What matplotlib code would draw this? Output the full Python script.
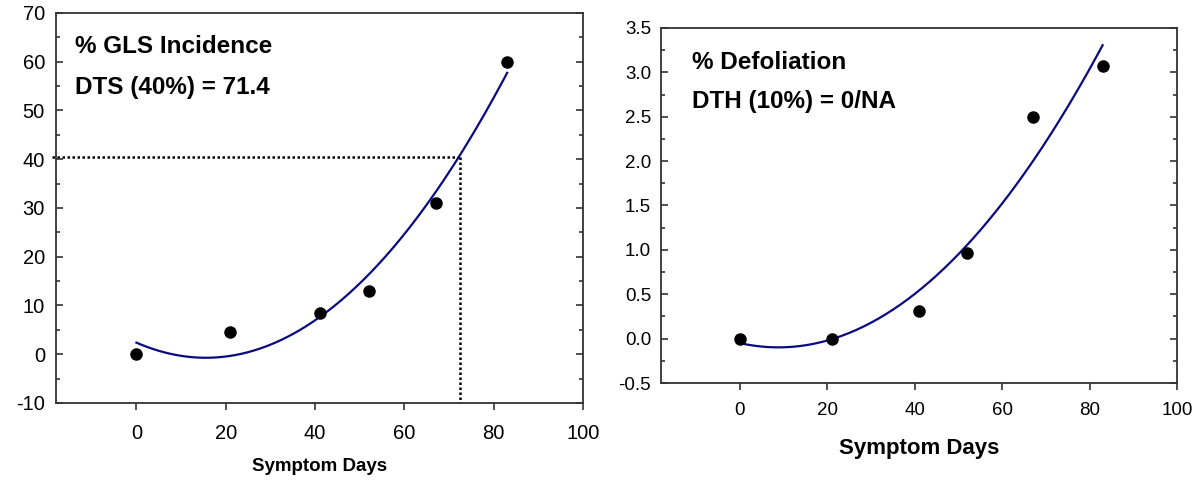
import numpy as np
import matplotlib
matplotlib.use('Agg')
import matplotlib.pyplot as plt
from matplotlib.ticker import MultipleLocator

plt.rcParams['font.family'] = ['Liberation Sans', 'DejaVu Sans']
plt.rcParams['axes.unicode_minus'] = False

# observed points
days = [0, 21, 41, 52, 67, 83]
gls_incidence = [0, 4.5, 8.5, 13, 31, 60]
defoliation = [0, 0, 0.31, 0.96, 2.5, 3.07]

# threshold read-off on the GLS panel
dts_day = 72.5
dts_level = 40.5

LINE_COLOR = '#0a0a80'
SPINE_COLOR = '#333333'


def style_axes(ax, ymin, ymax, ymajor, yminor, tick_fs, pad_y, pad_x):
    ax.set_xlim(-18, 100)
    ax.set_ylim(ymin, ymax)
    ax.yaxis.set_major_locator(MultipleLocator(ymajor))
    ax.yaxis.set_minor_locator(MultipleLocator(yminor))
    ax.set_xticks([0, 20, 40, 60, 80, 100])
    for s in ax.spines.values():
        s.set_color(SPINE_COLOR)
        s.set_linewidth(1.3)
    ax.tick_params(axis='x', direction='out', length=5, width=1.2,
                   color=SPINE_COLOR, labelsize=tick_fs, pad=pad_x)
    ax.tick_params(axis='y', which='both', direction='in', left=True, right=True,
                   width=1.2, color=SPINE_COLOR, labelsize=tick_fs, pad=pad_y)
    ax.tick_params(axis='y', which='major', length=5)
    ax.tick_params(axis='y', which='minor', length=3)
    ax.tick_params(axis='x', which='minor', bottom=False)


def fit_line(ax, x, y):
    # quadratic regression through the observations
    coef = np.polyfit(x, y, 2)
    xs = np.linspace(min(x), max(x), 200)
    ax.plot(xs, np.polyval(coef, xs), color=LINE_COLOR, lw=1.6, zorder=2)
    ax.plot(x, y, 'o', color='black', ms=8, zorder=3)


fig = plt.figure(figsize=(12, 4.98), dpi=100)

# left panel: GLS incidence
ax1 = fig.add_axes([0.0467, 0.1908, 0.4392, 0.7831])
style_axes(ax1, -10, 70, 10, 5, 14.5, 8, 10)
fit_line(ax1, days, gls_incidence)
ax1.plot([-19, dts_day], [dts_level, dts_level], color='black', lw=1.8,
         linestyle=(0, (1, 1)), zorder=1, clip_on=False)
ax1.plot([dts_day, dts_day], [dts_level, -10], color='black', lw=1.8,
         linestyle=(0, (1, 1)), zorder=1, clip_on=False)
ax1.text(0.036, 0.913, '% GLS Incidence', transform=ax1.transAxes,
         fontsize=17.5, fontweight='bold', va='center')
ax1.text(0.036, 0.810, 'DTS (40%) = 71.4', transform=ax1.transAxes,
         fontsize=17.5, fontweight='bold', va='center')
ax1.set_xlabel('Symptom Days', fontsize=13.5, fontweight='bold')
ax1.xaxis.set_label_coords(0.5, -0.142)

# right panel: defoliation
ax2 = fig.add_axes([0.5508, 0.2309, 0.43, 0.7129])
style_axes(ax2, -0.5, 3.5, 0.5, 0.25, 13.5, 7, 9)
ax2.yaxis.set_major_formatter(matplotlib.ticker.FormatStrFormatter('%.1f'))
fit_line(ax2, days, defoliation)
ax2.text(0.060, 0.904, '% Defoliation', transform=ax2.transAxes,
         fontsize=17.5, fontweight='bold', va='center')
ax2.text(0.060, 0.792, 'DTH (10%) = 0/NA', transform=ax2.transAxes,
         fontsize=17.5, fontweight='bold', va='center')
ax2.set_xlabel('Symptom Days', fontsize=16, fontweight='bold')
ax2.xaxis.set_label_coords(0.5, -0.155)

fig.savefig('out.png', dpi=100)
